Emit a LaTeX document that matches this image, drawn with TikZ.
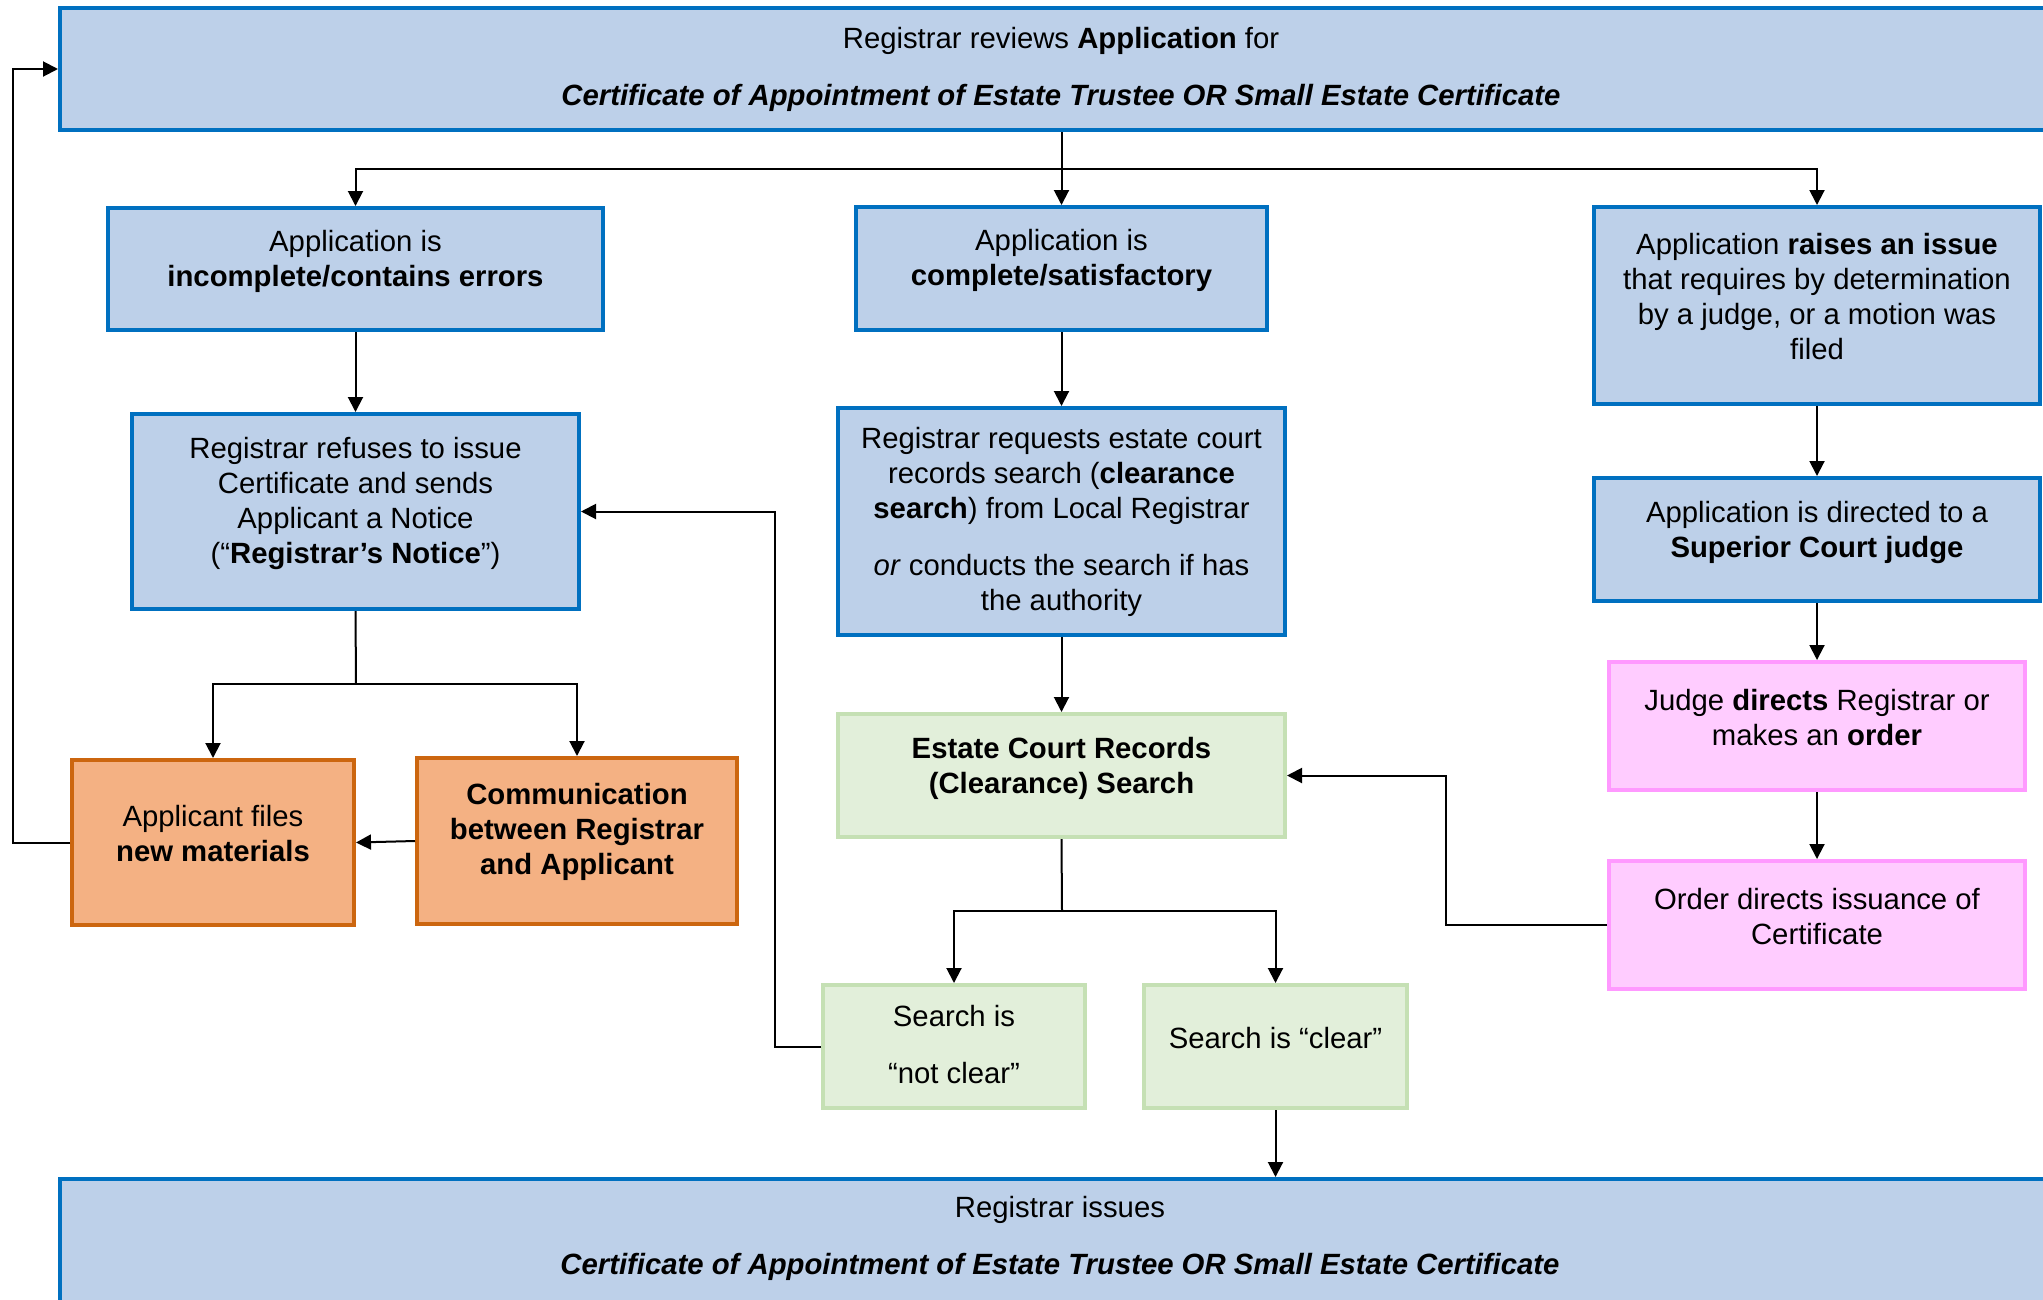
\documentclass[tikz,border=0pt]{standalone}
\usepackage{fontspec}
\setmainfont{Liberation Sans}
\usetikzlibrary{arrows.meta}
\definecolor{bfill}{HTML}{BDD0E9}
\definecolor{bline}{HTML}{0070C0}
\definecolor{ofill}{HTML}{F4B183}
\definecolor{oline}{HTML}{CC660F}
\definecolor{gfill}{HTML}{E2EFDA}
\definecolor{gline}{HTML}{C5E0B4}
\definecolor{pfill}{HTML}{FFCCFF}
\definecolor{pline}{HTML}{FF99FF}
\tikzset{
  boxbase/.style={rectangle, line width=4pt, inner sep=0pt},
  bluebox/.style={boxbase, draw=bline, fill=bfill},
  orangebox/.style={boxbase, draw=oline, fill=ofill},
  greenbox/.style={boxbase, draw=gline, fill=gfill},
  pinkbox/.style={boxbase, draw=pline, fill=pfill},
  txt/.style={align=center, inner sep=0pt, font=\fontsize{29.3}{35}\selectfont},
  conn/.style={line width=2pt, draw=black},
  arr/.style={conn, -{Triangle[length=15pt,width=15pt]}}
}
\begin{document}
\begin{tikzpicture}[x=1pt,y=-1pt]
\path[use as bounding box] (0,0) rectangle (2043,1299);
\clip (0,0) rectangle (2043,1299);

% boxes
\node[bluebox, minimum width=2010, minimum height=122] (top) at (1065,69) {};
\node[bluebox, minimum width=495, minimum height=122] (a1) at (355.5,269) {};
\node[bluebox, minimum width=411, minimum height=123] (a2) at (1061.5,268.5) {};
\node[bluebox, minimum width=446, minimum height=197] (a3) at (1817,305.5) {};
\node[bluebox, minimum width=447, minimum height=195] (b1) at (355.5,511.5) {};
\node[bluebox, minimum width=447, minimum height=227] (b2) at (1061.5,521.5) {};
\node[bluebox, minimum width=446, minimum height=123] (b3) at (1817,539.5) {};
\node[greenbox, minimum width=447, minimum height=123] (c) at (1061.5,775.5) {};
\node[pinkbox, minimum width=416, minimum height=128] (j) at (1817,726) {};
\node[pinkbox, minimum width=416, minimum height=128] (o) at (1817,925) {};
\node[orangebox, minimum width=282, minimum height=165] (f) at (213,842.5) {};
\node[orangebox, minimum width=320, minimum height=166] (m) at (577,841) {};
\node[greenbox, minimum width=262, minimum height=123] (nc) at (954,1046.5) {};
\node[greenbox, minimum width=263, minimum height=123] (cl) at (1275.5,1046.5) {};
\node[bluebox, minimum width=2010, minimum height=141] (bot) at (1065,1249.5) {};

% texts
\node[txt] (topt) at (1061,69) {Registrar reviews \textbf{Application} for\\[22pt]\textbf{\textit{Certificate of Appointment of Estate Trustee OR Small Estate Certificate}}};
\node[txt] (a1t) at (355.5,261) {Application is\\\textbf{incomplete/contains errors}};
\node[txt] (a2t) at (1061.5,260) {Application is\\\textbf{complete/satisfactory}};
\node[txt] (a3t) at (1817,297) {Application \textbf{raises an issue}\\that requires by determination\\by a judge, or a motion was\\filed};
\node[txt] (b1t) at (355.5,503) {Registrar refuses to issue\\Certificate and sends\\Applicant a Notice\\(“\textbf{Registrar’s Notice}”)};
\node[txt] (b2t) at (1061.5,522) {Registrar requests estate court\\records search (\textbf{clearance}\\\textbf{search}) from Local Registrar\\[22pt]\textit{or} conducts the search if has\\the authority};
\node[txt] (b3t) at (1817,532) {Application is directed to a\\\textbf{Superior Court judge}};
\node[txt] (ct) at (1061.5,768) {\textbf{Estate Court Records}\\\textbf{(Clearance) Search}};
\node[txt] (jt) at (1817,718) {Judge \textbf{directs} Registrar or\\makes an \textbf{order}};
\node[txt] (ot) at (1817,917) {Order directs issuance of\\Certificate};
\node[txt] (ft) at (213,834) {Applicant files\\\textbf{new materials}};
\node[txt] (mt) at (577,832) {\textbf{Communication}\\\textbf{between Registrar}\\\textbf{and Applicant}};
\node[txt] (nct) at (954,1045) {Search is\\[22pt]“not clear”};
\node[txt] (clt) at (1275.5,1038) {Search is “clear”};
\node[txt] (bott) at (1060,1238) {Registrar issues\\[22pt]\textbf{\textit{Certificate of Appointment of Estate Trustee OR Small Estate Certificate}}};

% helper coordinates
\coordinate (s1) at (1062,169);
\coordinate (s2) at (356,684);
\coordinate (s3) at (1062,911);
\coordinate (loopL) at (13,0);
\coordinate (loopM) at (775,0);
\coordinate (loopR) at (1446,0);

% connectors
\draw[arr] (top.south -| a2.north) -- (a2.north);
\draw[arr] (s1) -| (a1.north);
\draw[arr] (s1) -| (a3.north);
\draw[arr] (a1) -- (b1);
\draw[arr] (a2) -- (b2);
\draw[arr] (a3) -- (b3);
\draw[arr] (b3) -- (j);
\draw[arr] (j) -- (o);
\draw[arr] (b2) -- (c);
\draw[conn] (b1.south) -- (s2);
\draw[arr] (s2) -| (f.north);
\draw[arr] (s2) -| (m.north);
\draw[arr] (m.west) -- (f.east);
\draw[arr] (f.west) -- (f.west -| loopL) |- (top.west);
\draw[conn] (c.south) -- (s3);
\draw[arr] (s3) -| (nc.north);
\draw[arr] (s3) -| (cl.north);
\draw[arr] (cl.south) -- (cl.south |- bot.north);
\draw[arr] (nc.west) -- (nc.west -| loopM) |- (b1.east);
\draw[arr] (o.west) -- (o.west -| loopR) |- (c.east);
\end{tikzpicture}
\end{document}
